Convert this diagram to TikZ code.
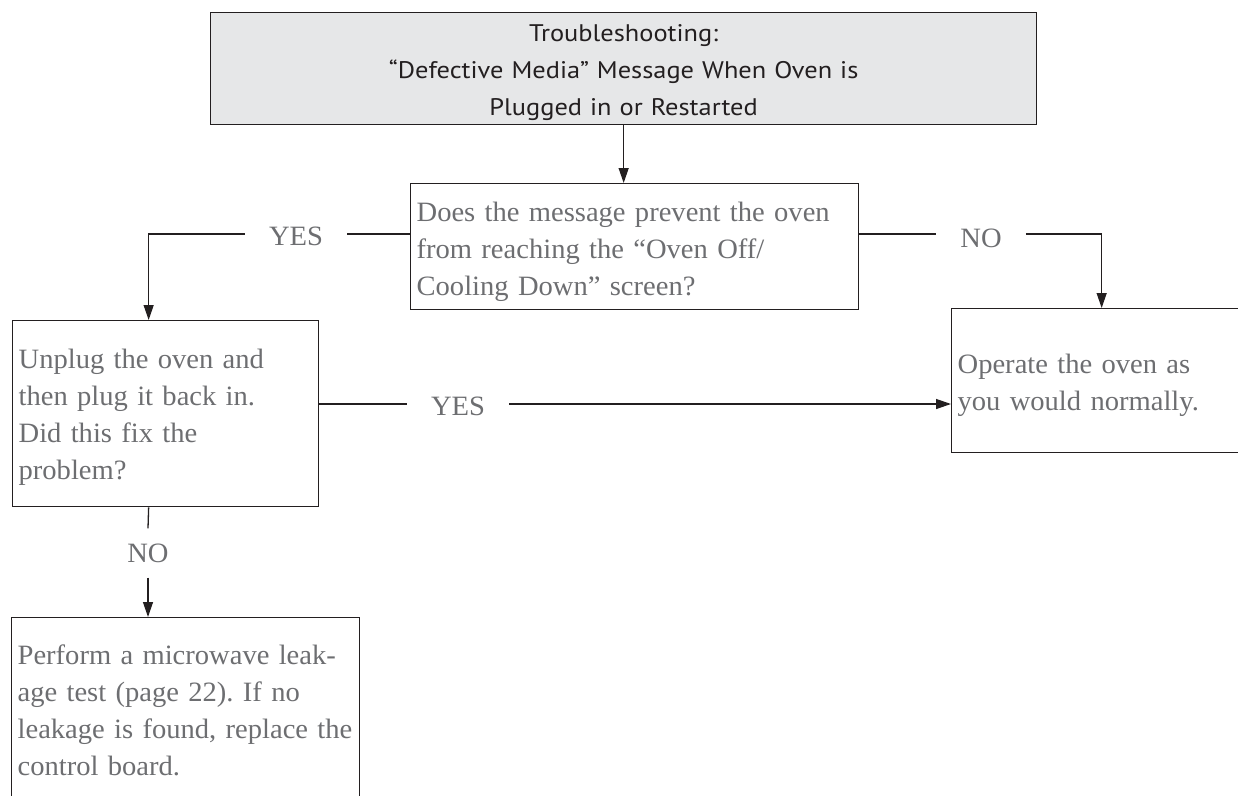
\documentclass[tikz,border=0pt]{standalone}
\usepackage{fontspec}
\setmainfont{Liberation Serif}[FakeStretch=1.02]
\newfontfamily\titlefont{PT Sans}[FakeStretch=1.1]
\usetikzlibrary{arrows.meta}
\definecolor{txtgray}{HTML}{6D6E71}
\definecolor{boxfill}{HTML}{E6E7E8}
\definecolor{linec}{HTML}{231F20}
\frenchspacing
\newcommand{\topstrut}[1]{\rule{0pt}{#1}}
\begin{document}
\begin{tikzpicture}[x=1pt,y=-1pt,
  box/.style={draw=linec,line width=1.3pt,rectangle,inner xsep=6pt,inner ysep=0pt,anchor=north west,align=left,text=txtgray,font=\fontsize{28}{37}\selectfont},
  lbl/.style={text=txtgray,font=\fontsize{28}{30}\selectfont,inner xsep=24pt,inner ysep=0pt},
  lblv/.style={text=txtgray,font=\fontsize{28}{30}\selectfont,inner xsep=0pt,inner ysep=15pt},
  conn/.style={draw=linec,line width=1.3pt},
  arr/.style={conn,-{Triangle[length=15pt,width=10pt]}}]
\useasboundingbox (0,0) rectangle (1238,795);
\clip (0,0) rectangle (1238,795);

\node[box, fill=boxfill, text=linec, align=center, font=\titlefont\fontsize{24}{37}\selectfont,
  minimum width=826, minimum height=112, text width=814] (title) at (210,12)
  {\topstrut{24pt}Troubleshooting:\\“Defective Media” Message When Oven is\\Plugged in or Restarted};

\node[box, minimum width=448, minimum height=126, text width=436] (q1) at (410,183)
  {\topstrut{30pt}Does the message prevent the oven\\from reaching the “Oven Off/\\Cooling Down” screen?};

\node[box, minimum width=306, minimum height=186, text width=294] (left) at (12,320)
  {\topstrut{26pt}Unplug the oven and\\then plug it back in.\\Did this fix the\\problem?};

\node[box, minimum width=298, minimum height=144, text width=286] (right) at (951,308)
  {\topstrut{28pt}Operate the oven as\\you would normally.};

\node[box, minimum width=348, minimum height=186, text width=336] (bottom) at (11,617)
  {Perform a microwave leak-\\age test (page 22). If no\\leakage is found, replace the\\control board.};

\node[lbl] (yes1) at (296,236) {YES};
\node[lbl] (no1) at (981,238) {NO};
\node[lbl] (yes2) at (458,406) {YES};
\node[lblv] (no2) at (148,553) {NO};

\draw[arr] (title.south) -- (title.south |- q1.north);
\draw[conn] (q1.west |- 0,234) -- (yes1.east |- 0,234);
\draw[arr] (yes1.west |- 0,234) -| ([xshift=-17pt]left.north);
\draw[conn] (q1.east |- 0,234) -- (no1.west |- 0,234);
\draw[arr] (no1.east |- 0,234) -| ([xshift=1pt]right.north);
\draw[conn] (left.east |- 0,404) -- (yes2.west |- 0,404);
\draw[arr] (yes2.east |- 0,404) -- (right.west |- 0,404);
\draw[conn] ([xshift=-17pt]left.south) -- (no2.north);
\draw[arr] (no2.south) -- (no2.south |- bottom.north);
\end{tikzpicture}
\end{document}
